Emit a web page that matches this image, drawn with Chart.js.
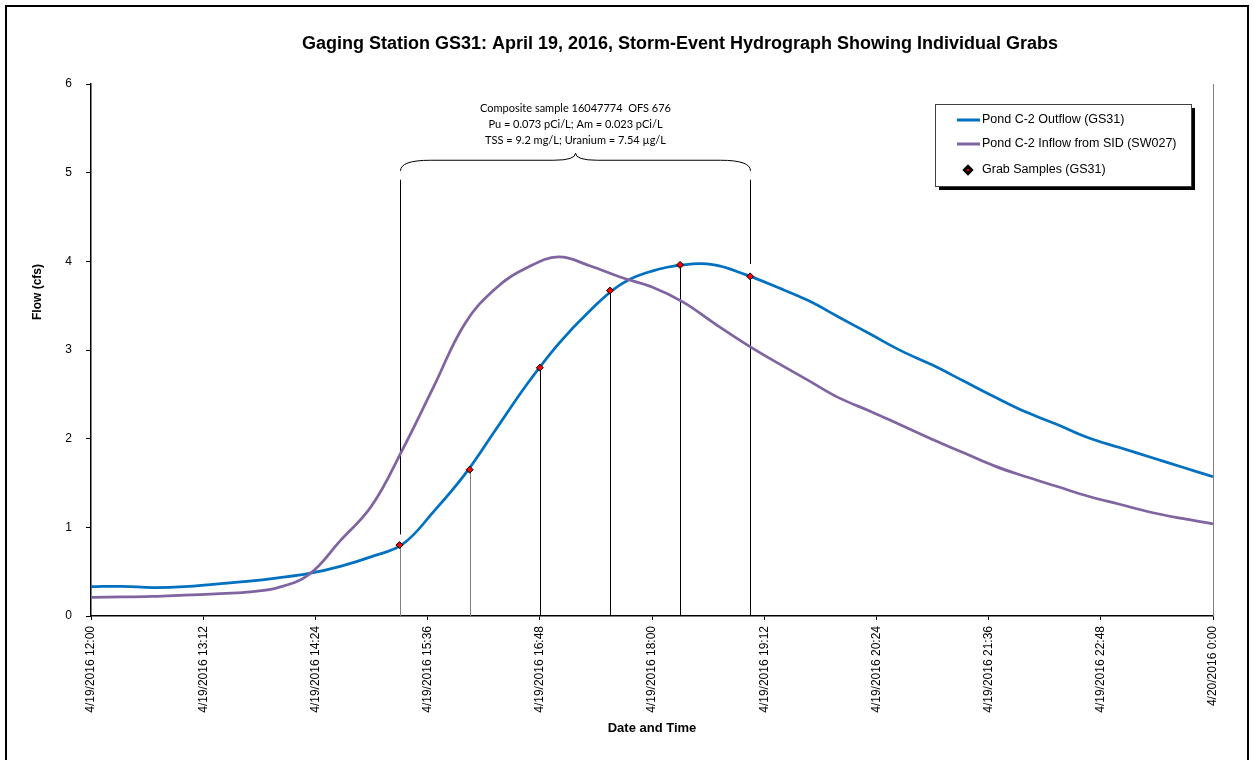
<!DOCTYPE html>
<html>
<head>
<meta charset="utf-8">
<title>GS31 Storm-Event Hydrograph</title>
<script src="https://cdn.jsdelivr.net/npm/chart.js@4.4.0/dist/chart.umd.min.js"></script>
<style>
  html, body { margin: 0; padding: 0; background: #fff; }
  #grafico { display: block; }
</style>
</head>
<body>
<canvas id="grafico" width="1254" height="760"></canvas>
<script>
// Lecturas cada 20 minutos (4/19/2016 12:00 a 4/20/2016 0:00)
const horas = ['12:00','12:20','12:40','13:00','13:20','13:40','14:00','14:20','14:40','15:00','15:20','15:40',
  '16:00','16:20','16:40','17:00','17:20','17:40','18:00','18:20','18:40','19:00','19:20','19:40',
  '20:00','20:20','20:40','21:00','21:20','21:40','22:00','22:20','22:40','23:00','23:20','23:40','0:00'];

// Pond C-2 Outflow (GS31), cfs
const salidaGS31 = [0.33, 0.335, 0.32, 0.33, 0.36, 0.39, 0.43, 0.48, 0.56, 0.67, 0.81, 1.18,
  1.60, 2.11, 2.62, 3.07, 3.44, 3.74, 3.89, 3.96, 3.96, 3.85, 3.71, 3.56,
  3.37, 3.18, 2.99, 2.83, 2.65, 2.47, 2.30, 2.16, 2.01, 1.90, 1.79, 1.68, 1.57];

// Pond C-2 Inflow from SID (SW027), cfs
const entradaSW027 = [0.21, 0.215, 0.22, 0.235, 0.25, 0.27, 0.32, 0.47, 0.85, 1.24, 1.88, 2.59,
  3.30, 3.70, 3.93, 4.05, 3.95, 3.82, 3.71, 3.54, 3.30, 3.07, 2.86, 2.66,
  2.46, 2.31, 2.15, 1.99, 1.84, 1.69, 1.57, 1.46, 1.35, 1.26, 1.17, 1.10, 1.04];

// Muestras puntuales (GS31)
const horasMuestras = ['15:18', '16:03', '16:48', '17:33', '18:18', '19:03'];
const valoresMuestras = [0.80, 1.65, 2.80, 3.67, 3.96, 3.83];

const etiquetasX = ['4/19/2016 12:00', '4/19/2016 13:12', '4/19/2016 14:24', '4/19/2016 15:36',
  '4/19/2016 16:48', '4/19/2016 18:00', '4/19/2016 19:12', '4/19/2016 20:24',
  '4/19/2016 21:36', '4/19/2016 22:48', '4/20/2016 0:00'];

const notaCompuesta = [
  'Composite sample 16047774  OFS 676',
  'Pu = 0.073 pCi/L; Am = 0.023 pCi/L',
  'TSS = 9.2 mg/L; Uranium = 7.54 \u00b5g/L'
];

const titulo = 'Gaging Station GS31: April 19, 2016, Storm-Event Hydrograph Showing Individual Grabs';

// minutos desde las 12:00 del 4/19
function aMinutos(hora) {
  const [h, m] = hora.split(':').map(Number);
  return (h < 12 ? h + 24 : h) * 60 + m - 720;
}

const puntos = (valores) => valores.map((v, i) => ({ x: aMinutos(horas[i]), y: v }));

const fuente = "'Liberation Sans', Arial, sans-serif";

// Dibujos extra: título, llave del compuesto, líneas de muestras, leyenda y marco
const adornos = {
  id: 'adornos',
  beforeDatasetsDraw(chart) {
    const { ctx, scales: { x, y } } = chart;
    ctx.save();

    // líneas desde cada muestra hasta el eje
    horasMuestras.forEach((h, i) => {
      const px = Math.round(x.getPixelForValue(aMinutos(h))) + 0.5;
      ctx.strokeStyle = i < 2 ? '#808080' : '#000';
      ctx.lineWidth = 1;
      ctx.beginPath();
      ctx.moveTo(px, y.getPixelForValue(valoresMuestras[i]));
      ctx.lineTo(px, y.bottom);
      ctx.stroke();
    });

    // llave sobre las muestras del compuesto
    const x1 = Math.round(x.getPixelForValue(aMinutos(horasMuestras[0]))) + 0.5;
    const x2 = Math.round(x.getPixelForValue(aMinutos(horasMuestras[5]))) + 0.5;
    const xm = (x1 + x2) / 2;
    const yPunta = y.getPixelForValue(5.22);
    const yPlano = y.getPixelForValue(5.14);
    const yFin = y.getPixelForValue(5.02);
    ctx.strokeStyle = '#000';
    ctx.beginPath();
    ctx.moveTo(x1, yFin);
    ctx.quadraticCurveTo(x1, yPlano, x1 + 30, yPlano);
    ctx.lineTo(xm - 22, yPlano);
    ctx.quadraticCurveTo(xm, yPlano, xm, yPunta);
    ctx.quadraticCurveTo(xm, yPlano, xm + 22, yPlano);
    ctx.lineTo(x2 - 30, yPlano);
    ctx.quadraticCurveTo(x2, yPlano, x2, yFin);
    ctx.stroke();

    ctx.beginPath();
    ctx.moveTo(x1, y.getPixelForValue(4.92));
    ctx.lineTo(x1, y.getPixelForValue(0.92));
    ctx.moveTo(x2, y.getPixelForValue(4.92));
    ctx.lineTo(x2, y.getPixelForValue(3.97));
    ctx.stroke();

    ctx.fillStyle = '#000';
    ctx.font = "11px Lato, 'Open Sans', sans-serif";
    ctx.textAlign = 'center';
    ctx.textBaseline = 'middle';
    notaCompuesta.forEach((t, i) => ctx.fillText(t, xm, 108 + i * 16));
    ctx.restore();
  },
  afterDraw(chart) {
    const { ctx, scales: { x, y } } = chart;
    const sets = chart.data.datasets;
    ctx.save();

    // borde derecho del área del gráfico
    ctx.strokeStyle = '#808080';
    ctx.lineWidth = 1;
    ctx.beginPath();
    ctx.moveTo(x.right + 0.5, y.top);
    ctx.lineTo(x.right + 0.5, y.bottom);
    ctx.stroke();

    // título
    ctx.fillStyle = '#000';
    ctx.font = 'bold 18px ' + fuente;
    ctx.textAlign = 'center';
    ctx.textBaseline = 'middle';
    ctx.fillText(titulo, 680, 44);

    // título del eje Y
    ctx.save();
    ctx.translate(38, 292);
    ctx.rotate(-Math.PI / 2);
    ctx.font = 'bold 12px ' + fuente;
    ctx.fillText('Flow (cfs)', 0, 0);
    ctx.restore();

    // leyenda con sombra
    const lx = 935, ly = 104, lw = 256, lh = 82;
    ctx.fillStyle = '#000';
    ctx.fillRect(lx + 4, ly + 4, lw, lh);
    ctx.fillStyle = '#fff';
    ctx.fillRect(lx, ly, lw, lh);
    ctx.strokeStyle = '#404040';
    ctx.strokeRect(lx + 0.5, ly + 0.5, lw, lh);

    const filas = [120, 144, 170];
    ctx.font = '12.5px ' + fuente;
    ctx.textAlign = 'left';
    sets.forEach((ds, i) => {
      const fy = filas[i];
      if (ds.showLine === false) {
        ctx.save();
        ctx.translate(968, fy);
        ctx.rotate(Math.PI / 4);
        ctx.fillStyle = ds.backgroundColor;
        ctx.strokeStyle = ds.borderColor;
        ctx.fillRect(-2.5, -2.5, 5, 5);
        ctx.strokeRect(-2.5, -2.5, 5, 5);
        ctx.restore();
      } else {
        ctx.strokeStyle = ds.borderColor;
        ctx.lineWidth = 3;
        ctx.beginPath();
        ctx.moveTo(957, fy);
        ctx.lineTo(980, fy);
        ctx.stroke();
      }
      ctx.fillStyle = '#000';
      ctx.fillText(ds.label, 982, fy);
    });

    // marco exterior
    ctx.strokeStyle = '#000';
    ctx.lineWidth = 2;
    ctx.strokeRect(6, 6, 1242, 780);
    ctx.restore();
  }
};

const grafico = new Chart(document.getElementById('grafico'), {
  type: 'line',
  data: {
    datasets: [
      {
        label: 'Pond C-2 Outflow (GS31)',
        data: puntos(salidaGS31),
        borderColor: '#0070C0',
        borderWidth: 2.75,
        pointRadius: 0,
        tension: 0.4,
        order: 2
      },
      {
        label: 'Pond C-2 Inflow from SID (SW027)',
        data: puntos(entradaSW027),
        borderColor: '#8064A2',
        borderWidth: 2.75,
        pointRadius: 0,
        tension: 0.4,
        order: 1
      },
      {
        label: 'Grab Samples (GS31)',
        data: horasMuestras.map((h, i) => ({ x: aMinutos(h), y: valoresMuestras[i] })),
        showLine: false,
        pointStyle: 'rectRot',
        pointRadius: 3.5,
        backgroundColor: '#FF0000',
        borderColor: '#000',
        borderWidth: 1,
        order: 0
      }
    ]
  },
  options: {
    responsive: false,
    animation: false,
    layout: { padding: { top: 84, right: 41, left: 0, bottom: 0 } },
    plugins: {
      legend: { display: false },
      tooltip: { enabled: false }
    },
    scales: {
      x: {
        type: 'linear',
        min: 0,
        max: 720,
        ticks: {
          stepSize: 72,
          autoSkip: false,
          minRotation: 90,
          maxRotation: 90,
          padding: 6,
          color: '#000',
          font: { family: fuente, size: 12 },
          callback: (v) => etiquetasX[Math.round(v / 72)]
        },
        grid: { drawOnChartArea: false, tickLength: 4, color: '#000' },
        border: { color: '#000', width: 1.5 },
        title: {
          display: true,
          text: 'Date and Time',
          color: '#000',
          font: { family: fuente, size: 13, weight: 'bold' },
          padding: { top: 0, bottom: 24 }
        },
        afterFit: (s) => { s.height = 144; s.paddingLeft = 0; s.paddingRight = 0; }
      },
      y: {
        min: 0,
        max: 6,
        ticks: {
          stepSize: 1,
          padding: 14,
          color: '#000',
          font: { family: fuente, size: 12 }
        },
        grid: { drawOnChartArea: false, tickLength: 5, color: '#000' },
        border: { color: '#000', width: 1.5 },
        afterFit: (s) => { s.width = 91; s.paddingTop = 0; s.paddingBottom = 0; }
      }
    }
  },
  plugins: [adornos]
});
</script>
</body>
</html>
